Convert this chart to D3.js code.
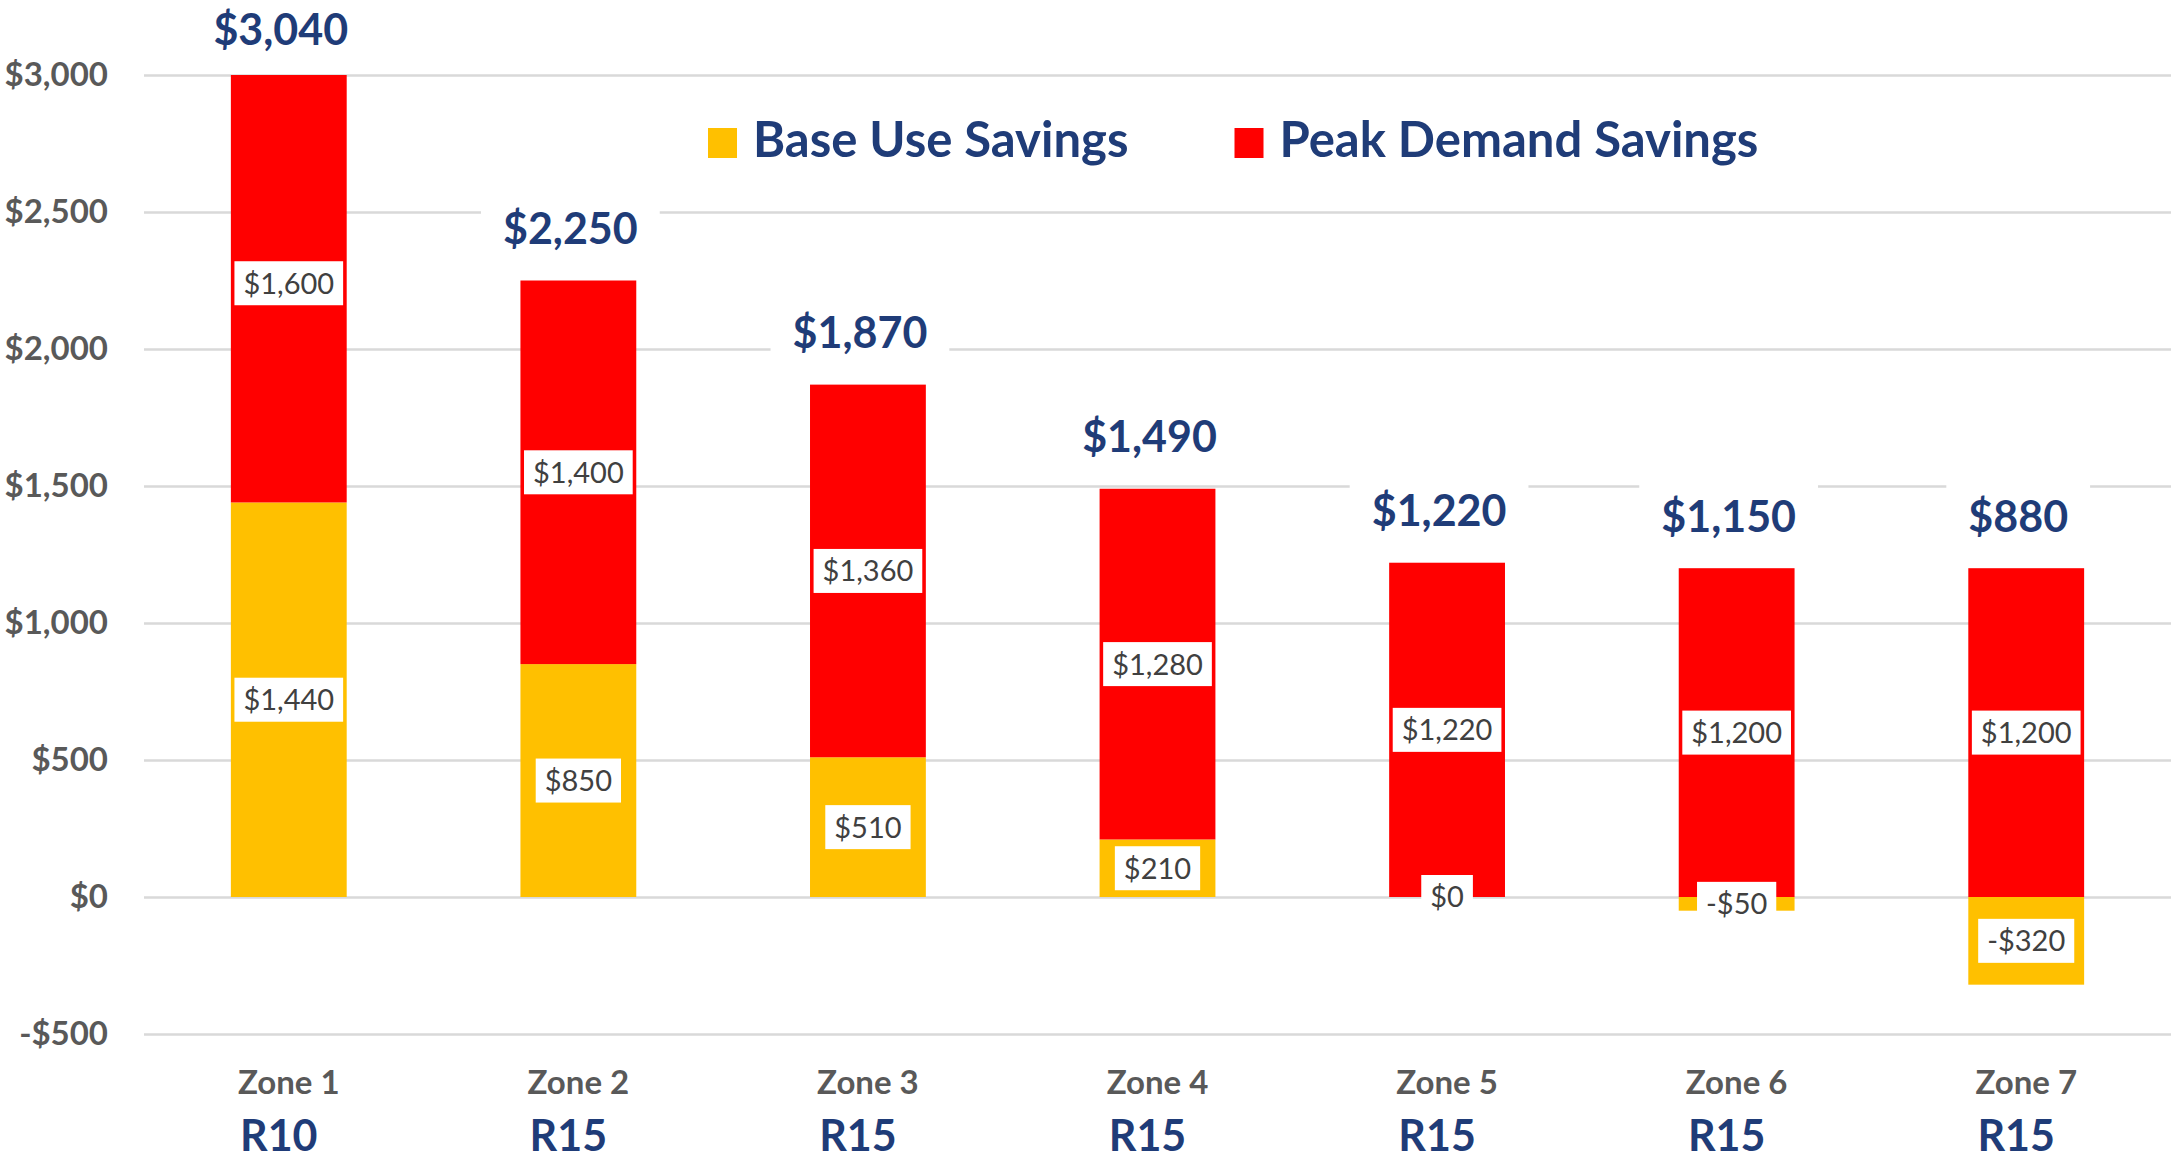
<!DOCTYPE html>
<html>
<head>
<meta charset="utf-8">
<script src="https://cdn.jsdelivr.net/npm/d3@7"></script>
<style>
  body { margin: 0; background: #fff; }
  text { font-family: Lato, "Open Sans", sans-serif; }
</style>
</head>
<body>
<svg id="chart" width="2171" height="1162"></svg>
<script>
// chart data
var zones = ["Zone 1", "Zone 2", "Zone 3", "Zone 4", "Zone 5", "Zone 6", "Zone 7"];
var rValues = ["R10", "R15", "R15", "R15", "R15", "R15", "R15"];
var baseUse = [1440, 850, 510, 210, 0, -50, -320];
var peakDemand = [1600, 1400, 1360, 1280, 1220, 1200, 1200];
var yTicks = [-500, 0, 500, 1000, 1500, 2000, 2500, 3000];
var seriesNames = ["Base Use Savings", "Peak Demand Savings"];

var svg = d3.select('#chart');
var width = +svg.attr('width');
var height = +svg.attr('height');

var blue = '#1f3c78';
var colors = { base: '#ffc000', peak: '#ff0000' };

var x = d3.scaleBand()
    .domain(zones)
    .range([144, width])
    .paddingInner(0.6)
    .paddingOuter(0.3);

var y = d3.scaleLinear()
    .domain([-500, 3000])
    .range([1034, 75]);

function dollar(v) {
    return (v < 0 ? '-$' : '$') + d3.format(',')(Math.abs(v));
}

var rows = zones.map(function(z, i) {
    return { zone: z, base: baseUse[i], peak: peakDemand[i] };
});

var stacked = d3.stack()
    .keys(['base', 'peak'])
    .offset(d3.stackOffsetDiverging)(rows);

// gridlines + y labels
var yAxis = svg.append('g')
    .attr('transform', 'translate(144,0)')
    .call(d3.axisLeft(y).tickValues(yTicks).tickSize(-(width - 144)).tickPadding(36).tickFormat(dollar));
yAxis.select('.domain').remove();
yAxis.selectAll('line').attr('stroke', '#d9d9d9').attr('stroke-width', 2.5);
yAxis.selectAll('text')
    .attr('fill', '#595959')
    .attr('font-size', 33)
    .attr('font-weight', 'bold')
    .attr('font-family', 'Lato, sans-serif');

// clip so the bars stop at the axis max like the original
svg.append('clipPath').attr('id', 'plotclip')
    .append('rect')
    .attr('x', 144).attr('y', y(3000))
    .attr('width', width - 144).attr('height', y(-500) - y(3000));

var barG = svg.append('g').attr('clip-path', 'url(#plotclip)');
barG.selectAll('g')
    .data(stacked)
    .enter().append('g')
    .attr('fill', function(s) { return colors[s.key]; })
    .selectAll('rect')
    .data(function(s) { return s; })
    .enter().append('rect')
    .attr('x', function(d) { return x(d.data.zone); })
    .attr('y', function(d) { return y(Math.max(d[0], d[1])); })
    .attr('width', x.bandwidth())
    .attr('height', function(d) { return Math.abs(y(d[0]) - y(d[1])); });

// segment value labels (white boxes)
var segLabels = [];
stacked.forEach(function(s) {
    s.forEach(function(d) {
        segLabels.push({ zone: d.data.zone, value: d.data[s.key], mid: (d[0] + d[1]) / 2 });
    });
});

var segG = svg.append('g').selectAll('g')
    .data(segLabels)
    .enter().append('g')
    .attr('transform', function(d) {
        return 'translate(' + (x(d.zone) + x.bandwidth() / 2) + ',' + y(d.mid) + ')';
    });
segG.append('rect').attr('fill', '#fff');
segG.append('text')
    .attr('text-anchor', 'middle')
    .attr('dy', '0.36em')
    .attr('font-size', 29)
    .attr('fill', '#404040')
    .text(function(d) { return dollar(d.value); });
segG.each(function() {
    var g = d3.select(this);
    var w = g.select('text').node().getComputedTextLength() + 18;
    g.select('rect').attr('x', -w / 2).attr('y', -22).attr('width', w).attr('height', 44);
});

// totals above the bars
var totG = svg.append('g').selectAll('g')
    .data(rows)
    .enter().append('g')
    .attr('transform', function(d) {
        var top = Math.min(Math.max(d.base, 0) + Math.max(d.peak, 0), y.domain()[1]);
        return 'translate(' + (x(d.zone) + x.bandwidth() / 2 - 8) + ',' + Math.max(y(top) - 52, 30) + ')';
    });
totG.append('rect').attr('fill', '#fff');
totG.append('text')
    .attr('text-anchor', 'middle')
    .attr('dy', '0.36em')
    .attr('font-size', 43)
    .attr('font-weight', 'bold')
    .attr('fill', blue)
    .text(function(d) { return dollar(d.base + d.peak); });
totG.each(function() {
    var g = d3.select(this);
    var w = g.select('text').node().getComputedTextLength() + 44;
    g.select('rect').attr('x', -w / 2).attr('y', -35).attr('width', w).attr('height', 70);
});

// category labels
var xAxis = svg.append('g')
    .attr('transform', 'translate(0,' + y(-500) + ')')
    .call(d3.axisBottom(x).tickSize(0).tickPadding(37));
xAxis.select('.domain').remove();
xAxis.selectAll('text')
    .attr('fill', '#595959')
    .attr('font-size', 33)
    .attr('font-weight', 'bold')
    .attr('font-family', 'Lato, sans-serif');

svg.append('g').selectAll('text')
    .data(rValues)
    .enter().append('text')
    .attr('x', function(d, i) { return x(zones[i]) + x.bandwidth() / 2 - 10; })
    .attr('y', 1151)
    .attr('text-anchor', 'middle')
    .attr('font-size', 43)
    .attr('font-weight', 'bold')
    .attr('fill', blue)
    .text(function(d) { return d; });

// legend
var legend = svg.append('g');
var legX = 708;
seriesNames.forEach(function(name, i) {
    var item = legend.append('g').attr('transform', 'translate(' + legX + ',0)');
    item.append('rect')
        .attr('x', 0).attr('y', 128)
        .attr('width', 29).attr('height', 30)
        .attr('fill', i === 0 ? colors.base : colors.peak);
    var t = item.append('text')
        .attr('x', 45).attr('y', 157)
        .attr('font-size', 49)
        .attr('font-weight', 'bold')
        .attr('fill', blue)
        .text(name);
    legX += 45 + t.node().getComputedTextLength() + 106;
});
</script>
</body>
</html>
